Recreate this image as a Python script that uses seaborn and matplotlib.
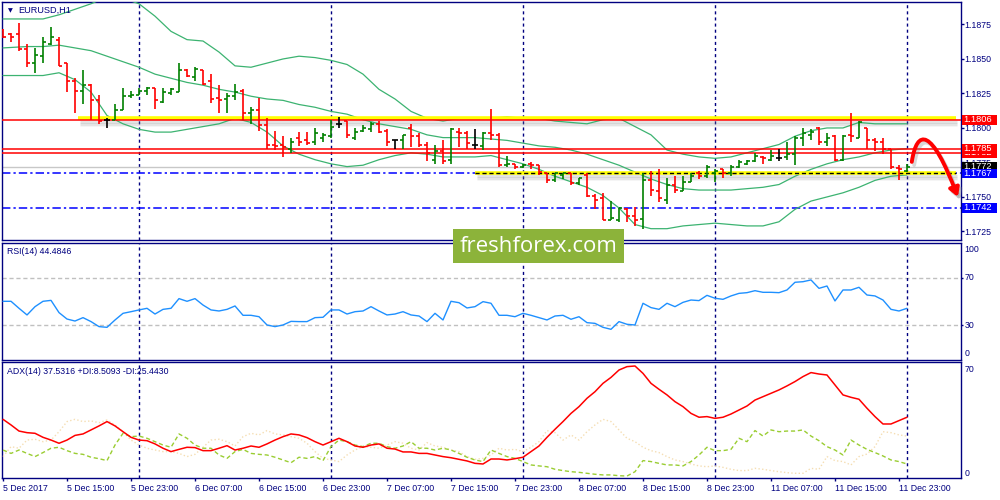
import matplotlib
matplotlib.use("Agg")
import matplotlib.pyplot as plt
import matplotlib.transforms as mtransforms
from matplotlib.patches import FancyArrowPatch, Rectangle
from matplotlib.path import Path
import numpy as np
import pandas as pd
import seaborn as sns

# EURUSD H1 bars, first bar 5 Dec 07:00, last bar 12 Dec 00:00
opens = [
    1.1871, 1.1868, 1.1868, 1.1857, 1.1847, 1.1852, 1.1861, 1.1864, 1.1847, 1.1834,
    1.1827, 1.1831, 1.1820, 1.1806, 1.1806, 1.1813, 1.1823, 1.1824, 1.1827, 1.1829,
    1.1819, 1.1825, 1.1826, 1.1842, 1.1837, 1.1842, 1.1834, 1.1822, 1.1821, 1.1823,
    1.1827, 1.1811, 1.1813, 1.1802, 1.1788, 1.1788, 1.1785, 1.1793, 1.1791, 1.1790,
    1.1793, 1.1794, 1.1803, 1.1805, 1.1793, 1.1798, 1.1799, 1.1803, 1.1798, 1.1791,
    1.1791, 1.1800, 1.1794, 1.1788, 1.1777, 1.1783, 1.1777, 1.1797, 1.1796, 1.1788,
    1.1787, 1.1796, 1.1795, 1.1773, 1.1774, 1.1772, 1.1774, 1.1773, 1.1767, 1.1762,
    1.1766, 1.1767, 1.1760, 1.1766, 1.1751, 1.1749, 1.1733, 1.1733, 1.1741, 1.1736,
    1.1734, 1.1762, 1.1754, 1.1748, 1.1759, 1.1754, 1.1761, 1.1767, 1.1765, 1.1767,
    1.1770, 1.1767, 1.1772, 1.1774, 1.1776, 1.1779, 1.1777, 1.1778, 1.1779, 1.1781,
    1.1793, 1.1795, 1.1800, 1.1790, 1.1794, 1.1777, 1.1795, 1.1793, 1.1800, 1.1791,
    1.1790, 1.1785, 1.1771, 1.1769,
]
highs = [
    1.1872, 1.1869, 1.1876, 1.1861, 1.1858, 1.1866, 1.1873, 1.1866, 1.1847, 1.1836,
    1.1842, 1.1832, 1.1824, 1.1807, 1.1817, 1.1829, 1.1827, 1.1829, 1.1830, 1.1829,
    1.1829, 1.1829, 1.1847, 1.1843, 1.1844, 1.1842, 1.1839, 1.1831, 1.1825, 1.1832,
    1.1828, 1.1815, 1.1822, 1.1807, 1.1798, 1.1794, 1.1793, 1.1797, 1.1797, 1.1800,
    1.1796, 1.1806, 1.1808, 1.1805, 1.1800, 1.1802, 1.1804, 1.1805, 1.1799, 1.1791,
    1.1795, 1.1803, 1.1796, 1.1790, 1.1788, 1.1791, 1.1800, 1.1800, 1.1798, 1.1799,
    1.1797, 1.1814, 1.1796, 1.1780, 1.1774, 1.1774, 1.1775, 1.1773, 1.1767, 1.1767,
    1.1767, 1.1767, 1.1764, 1.1767, 1.1752, 1.1753, 1.1747, 1.1742, 1.1742, 1.1743,
    1.1767, 1.1769, 1.1770, 1.1764, 1.1765, 1.1765, 1.1767, 1.1769, 1.1773, 1.1770,
    1.1770, 1.1773, 1.1777, 1.1777, 1.1782, 1.1780, 1.1784, 1.1785, 1.1790, 1.1794,
    1.1800, 1.1799, 1.1801, 1.1796, 1.1795, 1.1795, 1.1811, 1.1805, 1.1800, 1.1793,
    1.1793, 1.1785, 1.1773, 1.1774,
]
lows = [
    1.1865, 1.1862, 1.1856, 1.1844, 1.1840, 1.1847, 1.1860, 1.1845, 1.1826, 1.1811,
    1.1817, 1.1806, 1.1803, 1.1800, 1.1806, 1.1813, 1.1822, 1.1824, 1.1824, 1.1814,
    1.1818, 1.1824, 1.1826, 1.1837, 1.1834, 1.1831, 1.1818, 1.1811, 1.1811, 1.1820,
    1.1806, 1.1803, 1.1798, 1.1785, 1.1784, 1.1779, 1.1782, 1.1787, 1.1788, 1.1788,
    1.1790, 1.1793, 1.1800, 1.1793, 1.1791, 1.1797, 1.1797, 1.1796, 1.1787, 1.1785,
    1.1785, 1.1786, 1.1786, 1.1776, 1.1774, 1.1774, 1.1774, 1.1786, 1.1785, 1.1785,
    1.1784, 1.1791, 1.1772, 1.1772, 1.1770, 1.1771, 1.1770, 1.1766, 1.1760, 1.1761,
    1.1763, 1.1759, 1.1759, 1.1750, 1.1741, 1.1733, 1.1733, 1.1732, 1.1732, 1.1729,
    1.1727, 1.1751, 1.1746, 1.1745, 1.1753, 1.1754, 1.1761, 1.1763, 1.1764, 1.1761,
    1.1764, 1.1765, 1.1771, 1.1773, 1.1775, 1.1774, 1.1776, 1.1776, 1.1777, 1.1773,
    1.1787, 1.1791, 1.1788, 1.1787, 1.1776, 1.1776, 1.1790, 1.1793, 1.1785, 1.1783,
    1.1781, 1.1770, 1.1762, 1.1768,
]
closes = [
    1.1866, 1.1866, 1.1857, 1.1847, 1.1853, 1.1862, 1.1866, 1.1845, 1.1834, 1.1827,
    1.1831, 1.1820, 1.1805, 1.1806, 1.1813, 1.1823, 1.1824, 1.1827, 1.1829, 1.1820,
    1.1826, 1.1828, 1.1842, 1.1838, 1.1843, 1.1832, 1.1821, 1.1820, 1.1823, 1.1826,
    1.1811, 1.1813, 1.1802, 1.1788, 1.1787, 1.1786, 1.1790, 1.1790, 1.1789, 1.1796,
    1.1795, 1.1801, 1.1803, 1.1795, 1.1797, 1.1800, 1.1803, 1.1797, 1.1790, 1.1791,
    1.1795, 1.1794, 1.1788, 1.1782, 1.1783, 1.1776, 1.1799, 1.1796, 1.1789, 1.1788,
    1.1796, 1.1795, 1.1773, 1.1774, 1.1772, 1.1773, 1.1773, 1.1768, 1.1762, 1.1767,
    1.1767, 1.1760, 1.1764, 1.1751, 1.1748, 1.1733, 1.1735, 1.1742, 1.1736, 1.1733,
    1.1762, 1.1755, 1.1749, 1.1759, 1.1755, 1.1761, 1.1765, 1.1765, 1.1772, 1.1769,
    1.1767, 1.1772, 1.1775, 1.1776, 1.1780, 1.1778, 1.1780, 1.1778, 1.1781, 1.1793,
    1.1796, 1.1797, 1.1790, 1.1793, 1.1777, 1.1794, 1.1794, 1.1804, 1.1791, 1.1790,
    1.1785, 1.1772, 1.1770, 1.1772,
]

# Bollinger bands read every second bar
bb_bars = [0] + list(range(3, 114, 2))
bb_upper = [
    1.1879, 1.1879, 1.1879, 1.1882, 1.1886, 1.1890, 1.1895, 1.1894, 1.1890, 1.1881,
    1.1870, 1.1864, 1.1863, 1.1855, 1.1845, 1.1844, 1.1847, 1.1850, 1.1852, 1.1851,
    1.1849, 1.1846, 1.1839, 1.1828, 1.1821, 1.1812, 1.1807, 1.1805, 1.1807, 1.1807,
    1.1807, 1.1808, 1.1807, 1.1807, 1.1805, 1.1804, 1.1803, 1.1806, 1.1807, 1.1801,
    1.1795, 1.1784, 1.1781, 1.1779, 1.1778, 1.1779, 1.1782, 1.1785, 1.1788, 1.1794,
    1.1798, 1.1800, 1.1800, 1.1804, 1.1803, 1.1803, 1.1803,
]
bb_middle = [
    1.1858, 1.1859, 1.1859, 1.1860, 1.1858, 1.1856, 1.1852, 1.1848, 1.1844, 1.1839,
    1.1836, 1.1833, 1.1831, 1.1828, 1.1826, 1.1823, 1.1821, 1.1820, 1.1817, 1.1815,
    1.1812, 1.1810, 1.1806, 1.1803, 1.1801, 1.1799, 1.1795, 1.1793, 1.1793, 1.1793,
    1.1792, 1.1791, 1.1789, 1.1787, 1.1786, 1.1784, 1.1781, 1.1777, 1.1773, 1.1768,
    1.1763, 1.1759, 1.1756, 1.1755, 1.1755, 1.1755, 1.1756, 1.1757, 1.1759, 1.1765,
    1.1770, 1.1774, 1.1777, 1.1779, 1.1782, 1.1784, 1.1785,
]
bb_lower = [
    1.1838, 1.1838, 1.1838, 1.1840, 1.1835, 1.1826, 1.1809, 1.1803, 1.1799, 1.1797,
    1.1797, 1.1799, 1.1801, 1.1803, 1.1807, 1.1804, 1.1797, 1.1787, 1.1781, 1.1777,
    1.1774, 1.1772, 1.1773, 1.1777, 1.1780, 1.1782, 1.1781, 1.1779, 1.1779, 1.1779,
    1.1780, 1.1777, 1.1774, 1.1770, 1.1765, 1.1761, 1.1757, 1.1751, 1.1742, 1.1730,
    1.1727, 1.1727, 1.1729, 1.1730, 1.1731, 1.1730, 1.1729, 1.1729, 1.1732, 1.1741,
    1.1747, 1.1750, 1.1753, 1.1757, 1.1762, 1.1765, 1.1766,
]

rsi = [
    50.3, 50.3, 44.3, 38.6, 45.7, 50.3, 51.1, 40.6, 35.1, 33.4,
    36.3, 32.9, 28.6, 28.0, 34.3, 40.0, 41.4, 42.9, 44.3, 39.4,
    43.4, 44.3, 52.6, 50.3, 52.6, 47.1, 42.9, 42.0, 43.4, 46.3,
    38.3, 38.3, 37.1, 30.0, 28.6, 30.0, 33.1, 32.9, 32.9, 36.3,
    36.6, 42.9, 42.9, 39.4, 41.4, 42.0, 45.7, 42.0, 38.6, 39.4,
    41.4, 38.6, 37.7, 32.9, 40.0, 34.3, 50.3, 49.1, 44.6, 45.7,
    50.0, 48.6, 38.3, 38.3, 37.1, 40.0, 38.3, 36.3, 34.3, 37.7,
    38.3, 34.9, 37.1, 32.0, 31.4, 28.0, 26.3, 32.9, 30.6, 30.0,
    48.6, 44.9, 43.4, 48.6, 45.7, 49.4, 51.4, 50.9, 55.4, 52.9,
    52.0, 54.9, 57.1, 57.7, 59.4, 58.0, 58.0, 57.7, 60.0, 66.6,
    67.1, 68.6, 61.4, 63.4, 50.6, 60.0, 60.0, 62.3, 55.7, 54.9,
    51.4, 43.4, 42.0, 44.3,
]
adx = [
    36.3, 32.8, 29.0, 28.0, 27.6, 25.1, 23.4, 21.4, 23.4, 26.3,
    27.2, 29.7, 32.2, 34.9, 32.2, 28.6, 25.1, 23.4, 23.0, 21.0,
    18.3, 16.2, 17.6, 18.9, 18.7, 16.8, 16.8, 18.3, 19.9, 17.2,
    18.3, 19.7, 18.9, 21.0, 23.4, 25.5, 27.2, 26.6, 24.9, 22.4,
    20.3, 22.4, 24.5, 22.4, 19.7, 18.9, 20.3, 21.0, 18.3, 17.8,
    16.0, 16.0, 15.1, 15.1, 14.1, 13.1, 12.4, 11.4, 10.4, 8.9,
    8.5, 11.6, 11.6, 11.0, 11.8, 12.7, 16.2, 19.7, 25.1, 30.1,
    34.9, 40.0, 44.2, 49.4, 53.5, 58.7, 62.4, 67.0, 69.1, 69.5,
    64.9, 58.7, 55.0, 51.5, 47.3, 44.2, 40.0, 37.6, 38.0, 36.9,
    37.6, 39.6, 42.1, 44.6, 48.3, 50.4, 52.5, 54.6, 57.1, 59.8,
    62.9, 65.4, 64.5, 63.9, 57.7, 51.5, 50.0, 48.8, 43.2, 38.0,
    33.4, 33.4, 35.5, 37.6,
]
plus_di = [
    17.2, 15.1, 17.2, 15.1, 13.1, 15.6, 18.3, 18.9, 16.8, 15.1,
    14.5, 12.7, 11.8, 10.6, 20.3, 27.6, 25.5, 25.9, 24.5, 22.4,
    20.3, 18.9, 27.2, 24.5, 20.3, 18.3, 18.3, 14.1, 12.0, 16.2,
    17.6, 15.1, 14.5, 14.1, 12.7, 11.0, 9.3, 12.7, 12.0, 13.1,
    10.6, 19.3, 23.4, 22.4, 20.3, 19.3, 21.4, 21.4, 19.3, 18.3,
    19.7, 22.4, 18.3, 18.3, 17.2, 18.3, 17.2, 15.1, 12.7, 11.0,
    10.0, 17.2, 15.1, 13.1, 12.0, 10.0, 7.9, 7.3, 6.8, 5.2,
    4.4, 3.7, 3.3, 2.7, 2.1, 1.7, 1.7, 1.2, 1.0, 3.7,
    10.6, 10.0, 8.9, 7.9, 7.9, 7.3, 10.0, 14.1, 18.9, 16.8,
    16.8, 17.6, 24.5, 22.4, 29.3, 25.9, 29.7, 28.6, 29.0, 29.0,
    29.7, 25.9, 23.0, 19.3, 17.2, 14.1, 23.4, 20.3, 17.6, 15.6,
    13.5, 11.0, 10.0, 8.5,
]
minus_di = [
    13.1, 19.3, 18.3, 23.4, 23.9, 22.4, 23.4, 28.6, 34.9, 36.3,
    34.9, 35.3, 34.2, 35.9, 32.8, 28.6, 23.4, 20.3, 18.3, 17.2,
    16.2, 16.2, 15.1, 13.1, 14.5, 18.9, 23.4, 23.9, 22.4, 19.7,
    25.5, 27.6, 26.6, 29.3, 27.2, 26.6, 25.5, 24.5, 21.4, 16.2,
    12.0, 11.0, 10.0, 14.1, 17.2, 19.3, 18.9, 18.3, 20.3, 22.4,
    21.4, 18.3, 17.2, 21.8, 19.7, 18.9, 17.2, 16.2, 13.1, 11.4,
    12.0, 14.1, 18.3, 17.2, 17.6, 16.2, 18.9, 22.4, 29.3, 28.0,
    23.4, 26.6, 23.4, 28.6, 32.8, 36.3, 34.9, 29.7, 24.5, 22.4,
    18.9, 16.8, 15.6, 13.1, 11.0, 10.0, 8.5, 7.3, 6.8, 7.3,
    6.4, 5.2, 4.4, 4.4, 5.8, 5.2, 4.4, 3.7, 3.1, 2.7,
    2.7, 5.8, 5.2, 13.1, 10.6, 10.0, 7.9, 13.1, 14.7, 19.3,
    28.6, 28.0, 26.6, 25.9,
]

# time axis: one label every 8 bars, day separators
time_labels = ["5 Dec 2017", "5 Dec 15:00", "5 Dec 23:00", "6 Dec 07:00", "6 Dec 15:00",
               "6 Dec 23:00", "7 Dec 07:00", "7 Dec 15:00", "7 Dec 23:00", "8 Dec 07:00",
               "8 Dec 15:00", "8 Dec 23:00", "11 Dec 07:00", "11 Dec 15:00", "11 Dec 23:00"]
day_starts = [17, 41, 65, 89, 113]

price_ticks = [1.1725, 1.1750, 1.1775, 1.1800, 1.1825, 1.1850, 1.1875]
resistance = 1.1806
red_levels = [1.1785, 1.1782]
bid = 1.1772
blue_levels = [1.1767, 1.1742]

NAVY = "#000080"
UP, DOWN, DOJI = "#008000", "#ff0000", "#000000"
BB = "#3cb371"

sns.set_style("white")
plt.rcParams["font.family"] = ["Liberation Sans", "DejaVu Sans"]
FS = 6.3

n = len(closes)
bars = pd.DataFrame({"bar": np.arange(n), "open": opens, "high": highs,
                     "low": lows, "close": closes})
bars["color"] = np.where(bars["close"] > bars["open"], UP,
                         np.where(bars["close"] < bars["open"], DOWN, DOJI))
bands = pd.DataFrame({"bar": bb_bars, "upper": bb_upper,
                      "middle": bb_middle, "lower": bb_lower})
ind = pd.DataFrame({"bar": np.arange(n), "rsi": rsi, "adx": adx,
                    "pdi": plus_di, "mdi": minus_di})

fig = plt.figure(figsize=(10, 5), dpi=100)
ax = fig.add_axes([0.0023, 0.52, 0.9582, 0.4766])
ax_rsi = fig.add_axes([0.0023, 0.28, 0.9582, 0.2334], sharex=ax)
ax_adx = fig.add_axes([0.0023, 0.0434, 0.9582, 0.232], sharex=ax)

for a in (ax, ax_rsi, ax_adx):
    a.set_facecolor("white")
    for s in a.spines.values():
        s.set_color(NAVY)
        s.set_linewidth(1)
    for d in day_starts:
        a.axvline(d, color=NAVY, lw=1, ls=(0, (2.2, 2.2)), zorder=2)
ax.set_xlim(-0.09, 119.69)

# ---- price panel ----
for col in ["upper", "middle", "lower"]:
    sns.lineplot(data=bands, x="bar", y=col, ax=ax, color=BB, lw=0.9, zorder=3)

ax.axhline(bid, color="#c8c8c8", lw=1, zorder=2)
for lv in blue_levels:
    ax.axhline(lv, color="#0000ff", lw=1.1, ls=(0, (5.5, 2, 1.5, 2)), zorder=2)

# highlighted levels (yellow marker with a soft shadow)
for x0, lv, dy in [(9.4, resistance, 0.0001), (59, blue_levels[0], 0.0)]:
    for k, al in enumerate([0.22, 0.14, 0.07]):
        ax.plot([x0 + 0.2, 119.3], [lv - 0.0002 - 0.0001 * k] * 2, color="#808080",
                lw=2.2, alpha=al, solid_capstyle="butt", zorder=2)
    ax.plot([x0, 119.1], [lv + dy] * 2, color="#ffff00", lw=2.6,
            solid_capstyle="butt", zorder=3)
ax.plot([59, 119.1], [blue_levels[0]] * 2, color="black", lw=1,
        ls=(0, (3, 2)), zorder=3.5)

ax.axhline(resistance, color="#ff0000", lw=1.1, zorder=3.6)
for lv in red_levels:
    ax.axhline(lv, color="#ff0000", lw=1.1, zorder=3.6)

ax.vlines(bars["bar"], bars["low"], bars["high"], colors=bars["color"], lw=1.2, zorder=4)
ax.hlines(bars["open"], bars["bar"] - 0.42, bars["bar"], colors=bars["color"], lw=1.2, zorder=4)
ax.hlines(bars["close"], bars["bar"], bars["bar"] + 0.42, colors=bars["color"], lw=1.2, zorder=4)

ax.set_ylim(1.17188, 1.18915)
ax.set_yticks(price_ticks)
ax.set_yticklabels([f"{v:.4f}" for v in price_ticks])
ax.tick_params(axis="y", left=False, right=True, labelleft=False, labelright=True,
               length=2, width=1, pad=0.8, colors=NAVY, labelsize=FS)
ax.tick_params(axis="x", bottom=False, labelbottom=False)
ax.set_xlabel("")
ax.set_ylabel("")

# price labels on the right scale
blend = mtransforms.blended_transform_factory(fig.transFigure, ax.transData)
tags = [(red_levels[1], "#ff0000"), (red_levels[0], "#ff0000"), (resistance, "#ff0000"),
        (bid, "#000000"), (blue_levels[0], "#0000ff"), (blue_levels[1], "#0000ff")]
for k, (lv, c) in enumerate(tags):
    ax.add_patch(Rectangle((0.9615, lv - 0.00036), 0.0355, 0.00072, transform=blend,
                           facecolor=c, edgecolor="none", clip_on=False, zorder=20 + 2 * k))
    ax.text(0.9635, lv, f"{lv:.4f}", transform=blend, color="white", fontsize=FS + 0.4,
            ha="left", va="center", clip_on=False, zorder=21 + 2 * k)

# hand drawn red arrow
verts = [(113.6, 1.17754), (114.25, 1.1800), (116.1, 1.1800), (119.35, 1.1750)]
codes = [Path.MOVETO, Path.CURVE4, Path.CURVE4, Path.CURVE4]
shadow = [(x + 0.3, y - 0.00022) for x, y in verts]
for vv, col, al in [(shadow, "#808080", 0.3), (verts, "#ff0000", 1.0)]:
    arr = FancyArrowPatch(path=Path(vv, codes), arrowstyle="-|>,head_length=5,head_width=3",
                          color=col, lw=2.8, alpha=al, clip_on=False, zorder=30)
    ax.add_patch(arr)

# ---- RSI panel ----
sns.lineplot(data=ind, x="bar", y="rsi", ax=ax_rsi, color="#1e90ff", lw=1, zorder=3)
for lv in (70, 30):
    ax_rsi.axhline(lv, color="#c0c0c0", lw=1, ls=(0, (3, 2)), zorder=1)
ax_rsi.set_ylim(0, 100)
ax_rsi.set_yticks([70, 30])
ax_rsi.tick_params(axis="y", left=False, right=True, labelleft=False, labelright=False,
                   length=1.5, width=1, colors=NAVY)
ax_rsi.tick_params(axis="x", bottom=False, labelbottom=False)
ax_rsi.set_xlabel("")
ax_rsi.set_ylabel("")

# ---- ADX panel ----
sns.lineplot(data=ind, x="bar", y="mdi", ax=ax_adx, color="#f5deb3", lw=1, ls=":", zorder=3)
sns.lineplot(data=ind, x="bar", y="pdi", ax=ax_adx, color="#9acd32", lw=1,
             ls=(0, (3, 2)), zorder=3)
sns.lineplot(data=ind, x="bar", y="adx", ax=ax_adx, color="#ff0000", lw=1.1, zorder=4)
ax_adx.set_ylim(-0.41, 71.8)
ax_adx.set_yticks([])
ax_adx.set_xticks(np.arange(0, n, 8))
ax_adx.set_xticklabels(time_labels, ha="left")
ax_adx.tick_params(axis="x", bottom=True, length=2.5, width=1, pad=1.8,
                   colors=NAVY, labelsize=FS)
ax_adx.set_xlabel("")
ax_adx.set_ylabel("")

# ---- texts ----
fig.text(0.0075, 0.979, "\u25BC", fontsize=4.5, color=NAVY, va="center",
         family=["DejaVu Sans"])
fig.text(0.018, 0.979, "EURUSD,H1", fontsize=6.6, color=NAVY, va="center")
fig.text(0.007, 0.498, "RSI(14) 44.4846", fontsize=FS, color=NAVY, va="center")
fig.text(0.007, 0.258, "ADX(14) 37.5316 +DI:8.5093 -DI:25.4430", fontsize=FS,
         color=NAVY, va="center")
for txt, yy in [("100", 0.500), ("70", 0.444), ("30", 0.350), ("0", 0.294),
                ("70", 0.260), ("0", 0.054)]:
    fig.text(0.9645, yy, txt, fontsize=FS, color=NAVY, va="center")

# watermark
fig.add_artist(Rectangle((0.453, 0.474), 0.171, 0.068, transform=fig.transFigure,
                         facecolor="#8cb33a", edgecolor="none", zorder=5))
fig.text(0.5385, 0.507, "freshforex.com", fontsize=16, color="white", ha="center",
         va="center", family=["Open Sans", "DejaVu Sans"], zorder=6)

fig.savefig("out.png", dpi=100)
